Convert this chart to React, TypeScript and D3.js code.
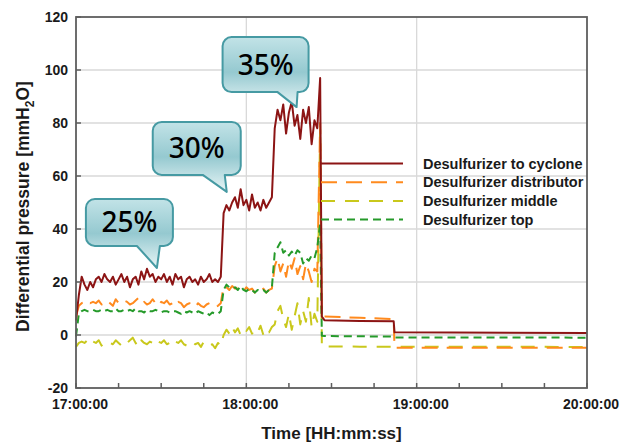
import * as d3 from "d3";

const W = 621;
const H = 443;
const margin = { top: 17, right: 34, bottom: 55, left: 76 };

// one reading per minute from 17:00:00 to 18:26:00, then the settled tail
const sampleMinutes = [...d3.range(0, 87), 86.6, 87.5, 100, 111.9, 112.2, 180];

const cyclone = [
  5.5, 15, 22, 19, 17, 20, 18, 21, 22, 20,
  23, 21, 20, 22, 19, 21, 23, 20, 22, 18,
  21, 22, 19, 24, 21, 25, 22, 23, 20, 22,
  21, 23, 20, 22, 19, 23, 21, 22, 18, 21,
  22, 20, 21, 19, 22, 20, 21, 23, 20, 21,
  20, 22, 46, 49, 47, 50, 52, 48, 55, 49,
  51, 47, 53, 48, 50, 47, 51, 48, 50, 52,
  78, 85, 81, 87, 76, 84, 88, 79, 83, 74,
  85, 80, 86, 72, 81, 78, 97,
  7, 5.6, 5.3, 5.2, 1.0, 0.8,
];

const distributor = [
  7, 11, 12, 12.5, 13, 12, 12.5, 12, 13, 11.5,
  12, 13, 12, 11, 13.5, 12, 12, 13, 12.5, 11.5,
  12, 13, 14, 12, 12.5, 11.5, 12, 13.5, 12, 11,
  12.5, 12, 13, 11.5, 12, 11, 12.5, 12, 10.5, 11.5,
  12, 11, 10.5, 12, 11, 10.5, 11.5, 12, 11, 10.5,
  11, 12, 18.5, 18, 17, 18.5, 17.5, 18, 17, 16.5,
  18, 17, 17.5, 16, 17, 16.5, 17.5, 16, 17, 17.5,
  26, 29, 24, 27, 22, 28, 25, 29, 23, 26,
  21, 27, 24, 20, 25, 24, 80,
  7.5, 7.0, 6.5, 6.0, -4.8, -4.8,
];

const middle = [
  -4.5, -3, -2.5, -3, -2, -3.5, -2.5, -3, -2, -4,
  -3, -2.5, -3, -3.5, -2, -3, -4, -2.5, -3, -2,
  -1, -3, -4.5, -2, -3, -3.5, -2.5, -3, -4, -2.5,
  -3, -2, -3.5, -3, -4, -2.5, -3, -2, -3.5, -4,
  -3, -2.5, -3.5, -3, -4.5, -2.5, -3, -4, -3.5, -5,
  -3, -4, 0, 2, 0.5, 3, 1, 2.5, 0, 2,
  1.5, 3, 0.5, 2, 1, 3.5, 0, 2, 1, 3,
  4, 9, 11, 6, 3, 8, 2, 7, 12, 4,
  9, 5, 14, 3, 8, 5, 78,
  -4.3, -4.3, -4.4, -4.4, -4.4, -4.5,
];

const top = [
  -0.5, 8, 9, 9.5, 9, 9, 9.5, 9, 9, 9.5,
  9, 9.5, 9, 9, 10, 9, 9, 9.5, 9, 9.5,
  9, 10, 9, 9, 8.5, 9.5, 9, 9, 9.5, 9,
  8.5, 9, 9, 8.5, 9, 9, 8.5, 8, 9, 8.5,
  9, 8.5, 8, 9, 8.5, 8, 8.5, 7.5, 8.5, 8,
  8, 9, 17, 19, 18, 17.5, 18, 17, 18.5, 17,
  16.5, 17.5, 17, 16, 17, 16.5, 17, 16, 17, 18,
  31, 33, 35, 31, 32, 30, 31.5, 30, 32, 31,
  27, 29, 28, 30, 29, 33, 42,
  -0.3, -0.4, -0.5, -0.6, -0.9, -1.0,
];

const seriesNames = [
  "Desulfurizer to cyclone",
  "Desulfurizer distributor",
  "Desulfurizer middle",
  "Desulfurizer top",
];
const seriesValues = [cyclone, distributor, middle, top];
const seriesColors = ["#8c1414", "#ff8a1e", "#c9c81c", "#259a2a"];
const seriesDash = [null, "16,9", "14,10", "8,5"];

const yTicks = [-20, 0, 20, 40, 60, 80, 100, 120];

// load-level callouts: label, point the tail touches, and box offset from it
const callouts = [
  { label: "25%", minute: 28.5, value: 25.3, dx: -71, dy: -69, w: 87, h: 47, t0: -20, t1: 3 },
  { label: "30%", minute: 53.1, value: 54, dx: -74, dy: -70, w: 88, h: 53, t0: -24, t1: -2 },
  { label: "35%", minute: 77.7, value: 86, dx: -74, dy: -70, w: 86, h: 55, t0: -19, t1: 1 },
];

const base = new Date(2000, 0, 1, 17, 0, 0);
const toDate = (m: number) => new Date(base.getTime() + m * 60000);

function calloutPath(x: number, y: number, w: number, h: number, b0: number, b1: number, tx: number, ty: number) {
  const r = 9;
  const p = d3.path();
  p.moveTo(x + r, y);
  p.lineTo(x + w - r, y);
  p.arcTo(x + w, y, x + w, y + r, r);
  p.lineTo(x + w, y + h - r);
  p.arcTo(x + w, y + h, x + w - r, y + h, r);
  p.lineTo(b1, y + h);
  p.lineTo(tx, ty);
  p.lineTo(b0, y + h);
  p.lineTo(x + r, y + h);
  p.arcTo(x, y + h, x, y + h - r, r);
  p.lineTo(x, y + r);
  p.arcTo(x, y, x + r, y, r);
  p.closePath();
  return p.toString();
}

export default function App() {
  const iw = W - margin.left - margin.right;
  const ih = H - margin.top - margin.bottom;
  const x = d3.scaleTime().domain([toDate(0), toDate(180)]).range([margin.left, margin.left + iw]);
  const y = d3.scaleLinear().domain([-20, 120]).range([margin.top + ih, margin.top]);
  const fmt = d3.timeFormat("%H:%M:%S");
  const hourTicks = x.ticks(d3.timeHour.every(1)!);
  const minorTicks = x.ticks(d3.timeMinute.every(15)!);

  const line = d3
    .line<number>()
    .x((_, i) => x(toDate(sampleMinutes[i])))
    .y((d) => y(d));

  const font = "'Liberation Sans', Arial, sans-serif";
  const drawOrder = [2, 1, 3, 0];
  const legendX0 = 321;
  const legendX1 = 403;
  const legendY = 163.5;
  const legendStep = 18.7;

  return (
    <svg width={W} height={H} style={{ position: "absolute", left: 0, top: 0 }} fontFamily={font}>
      <defs>
        <linearGradient id="calloutFill" x1="0" y1="0" x2="0" y2="1">
          <stop offset="0%" stopColor="#c2e3e7" />
          <stop offset="50%" stopColor="#95c9d0" />
          <stop offset="100%" stopColor="#e8f5f6" />
        </linearGradient>
      </defs>
      <rect width={W} height={H} fill="#fff" />

      {/* grid */}
      {yTicks.slice(1, -1).map((t) => (
        <line key={"gy" + t} x1={margin.left} x2={margin.left + iw} y1={y(t)} y2={y(t)} stroke="#d9d9d9" strokeWidth={1.3} />
      ))}
      {hourTicks.slice(1, -1).map((t) => (
        <line key={"gx" + t.getTime()} x1={x(t)} x2={x(t)} y1={margin.top} y2={margin.top + ih} stroke="#d9d9d9" strokeWidth={1.3} />
      ))}

      {/* series */}
      {drawOrder.map((s) => (
        <path
          key={seriesNames[s]}
          d={line(seriesValues[s]) ?? ""}
          fill="none"
          stroke={seriesColors[s]}
          strokeWidth={2}
          strokeDasharray={seriesDash[s] ?? undefined}
          strokeLinejoin="round"
        />
      ))}

      {/* frame and ticks */}
      <rect x={margin.left} y={margin.top} width={iw} height={ih} fill="none" stroke="#5e5e5e" strokeWidth={1.8} />
      {yTicks.map((t) => (
        <g key={"ty" + t}>
          <line x1={margin.left} x2={margin.left + 5} y1={y(t)} y2={y(t)} stroke="#5e5e5e" strokeWidth={1.5} />
          <text x={margin.left - 8} y={y(t) + 5} textAnchor="end" fontSize={14} fontWeight="bold" fill="#1a1a1a">
            {t}
          </text>
        </g>
      ))}
      {minorTicks.map((t) => (
        <line key={"tx" + t.getTime()} x1={x(t)} x2={x(t)} y1={margin.top + ih} y2={margin.top + ih - 5} stroke="#5e5e5e" strokeWidth={1.5} />
      ))}
      {hourTicks.map((t) => (
        <text key={"lx" + t.getTime()} x={x(t) + 4} y={margin.top + ih + 21} textAnchor="middle" fontSize={14} fontWeight="bold" fill="#1a1a1a">
          {fmt(t)}
        </text>
      ))}

      {/* axis titles */}
      <text x={margin.left + iw / 2} y={439} textAnchor="middle" fontSize={17} fontWeight="bold" fill="#1a1a1a">
        Time [HH:mm:ss]
      </text>
      <text transform={`translate(29,${margin.top + ih / 2 + 4}) rotate(-90)`} textAnchor="middle" fontSize={17.5} fontWeight="bold" fill="#1a1a1a">
        Differential pressure [mmH
        <tspan dy={5} fontSize={12}>2</tspan>
        <tspan dy={-5}>O]</tspan>
      </text>

      {/* legend */}
      {seriesNames.map((name, i) => (
        <g key={"lg" + name}>
          <line
            x1={legendX0}
            x2={legendX1}
            y1={legendY + i * legendStep}
            y2={legendY + i * legendStep}
            stroke={seriesColors[i]}
            strokeWidth={2}
            strokeDasharray={seriesDash[i] ?? undefined}
          />
          <text x={423} y={legendY + i * legendStep + 5} fontSize={14.5} fontWeight="bold" fill="#1a1a1a">
            {name}
          </text>
        </g>
      ))}

      {/* callouts */}
      {callouts.map((c) => {
        const tx = x(toDate(c.minute));
        const ty = y(c.value);
        const bx = tx + c.dx;
        const by = ty + c.dy;
        return (
          <g key={c.label}>
            <path
              d={calloutPath(bx, by, c.w, c.h, tx + c.t0, tx + c.t1, tx, ty)}
              fill="url(#calloutFill)"
              stroke="#469aa3"
              strokeWidth={2}
              strokeLinejoin="round"
            />
            <text x={bx + c.w / 2} y={by + c.h / 2 + 10} textAnchor="middle" fontSize={28} fontWeight={500} fontFamily="'Noto Sans', sans-serif" fill="#000">
              {c.label}
            </text>
          </g>
        );
      })}
    </svg>
  );
}
